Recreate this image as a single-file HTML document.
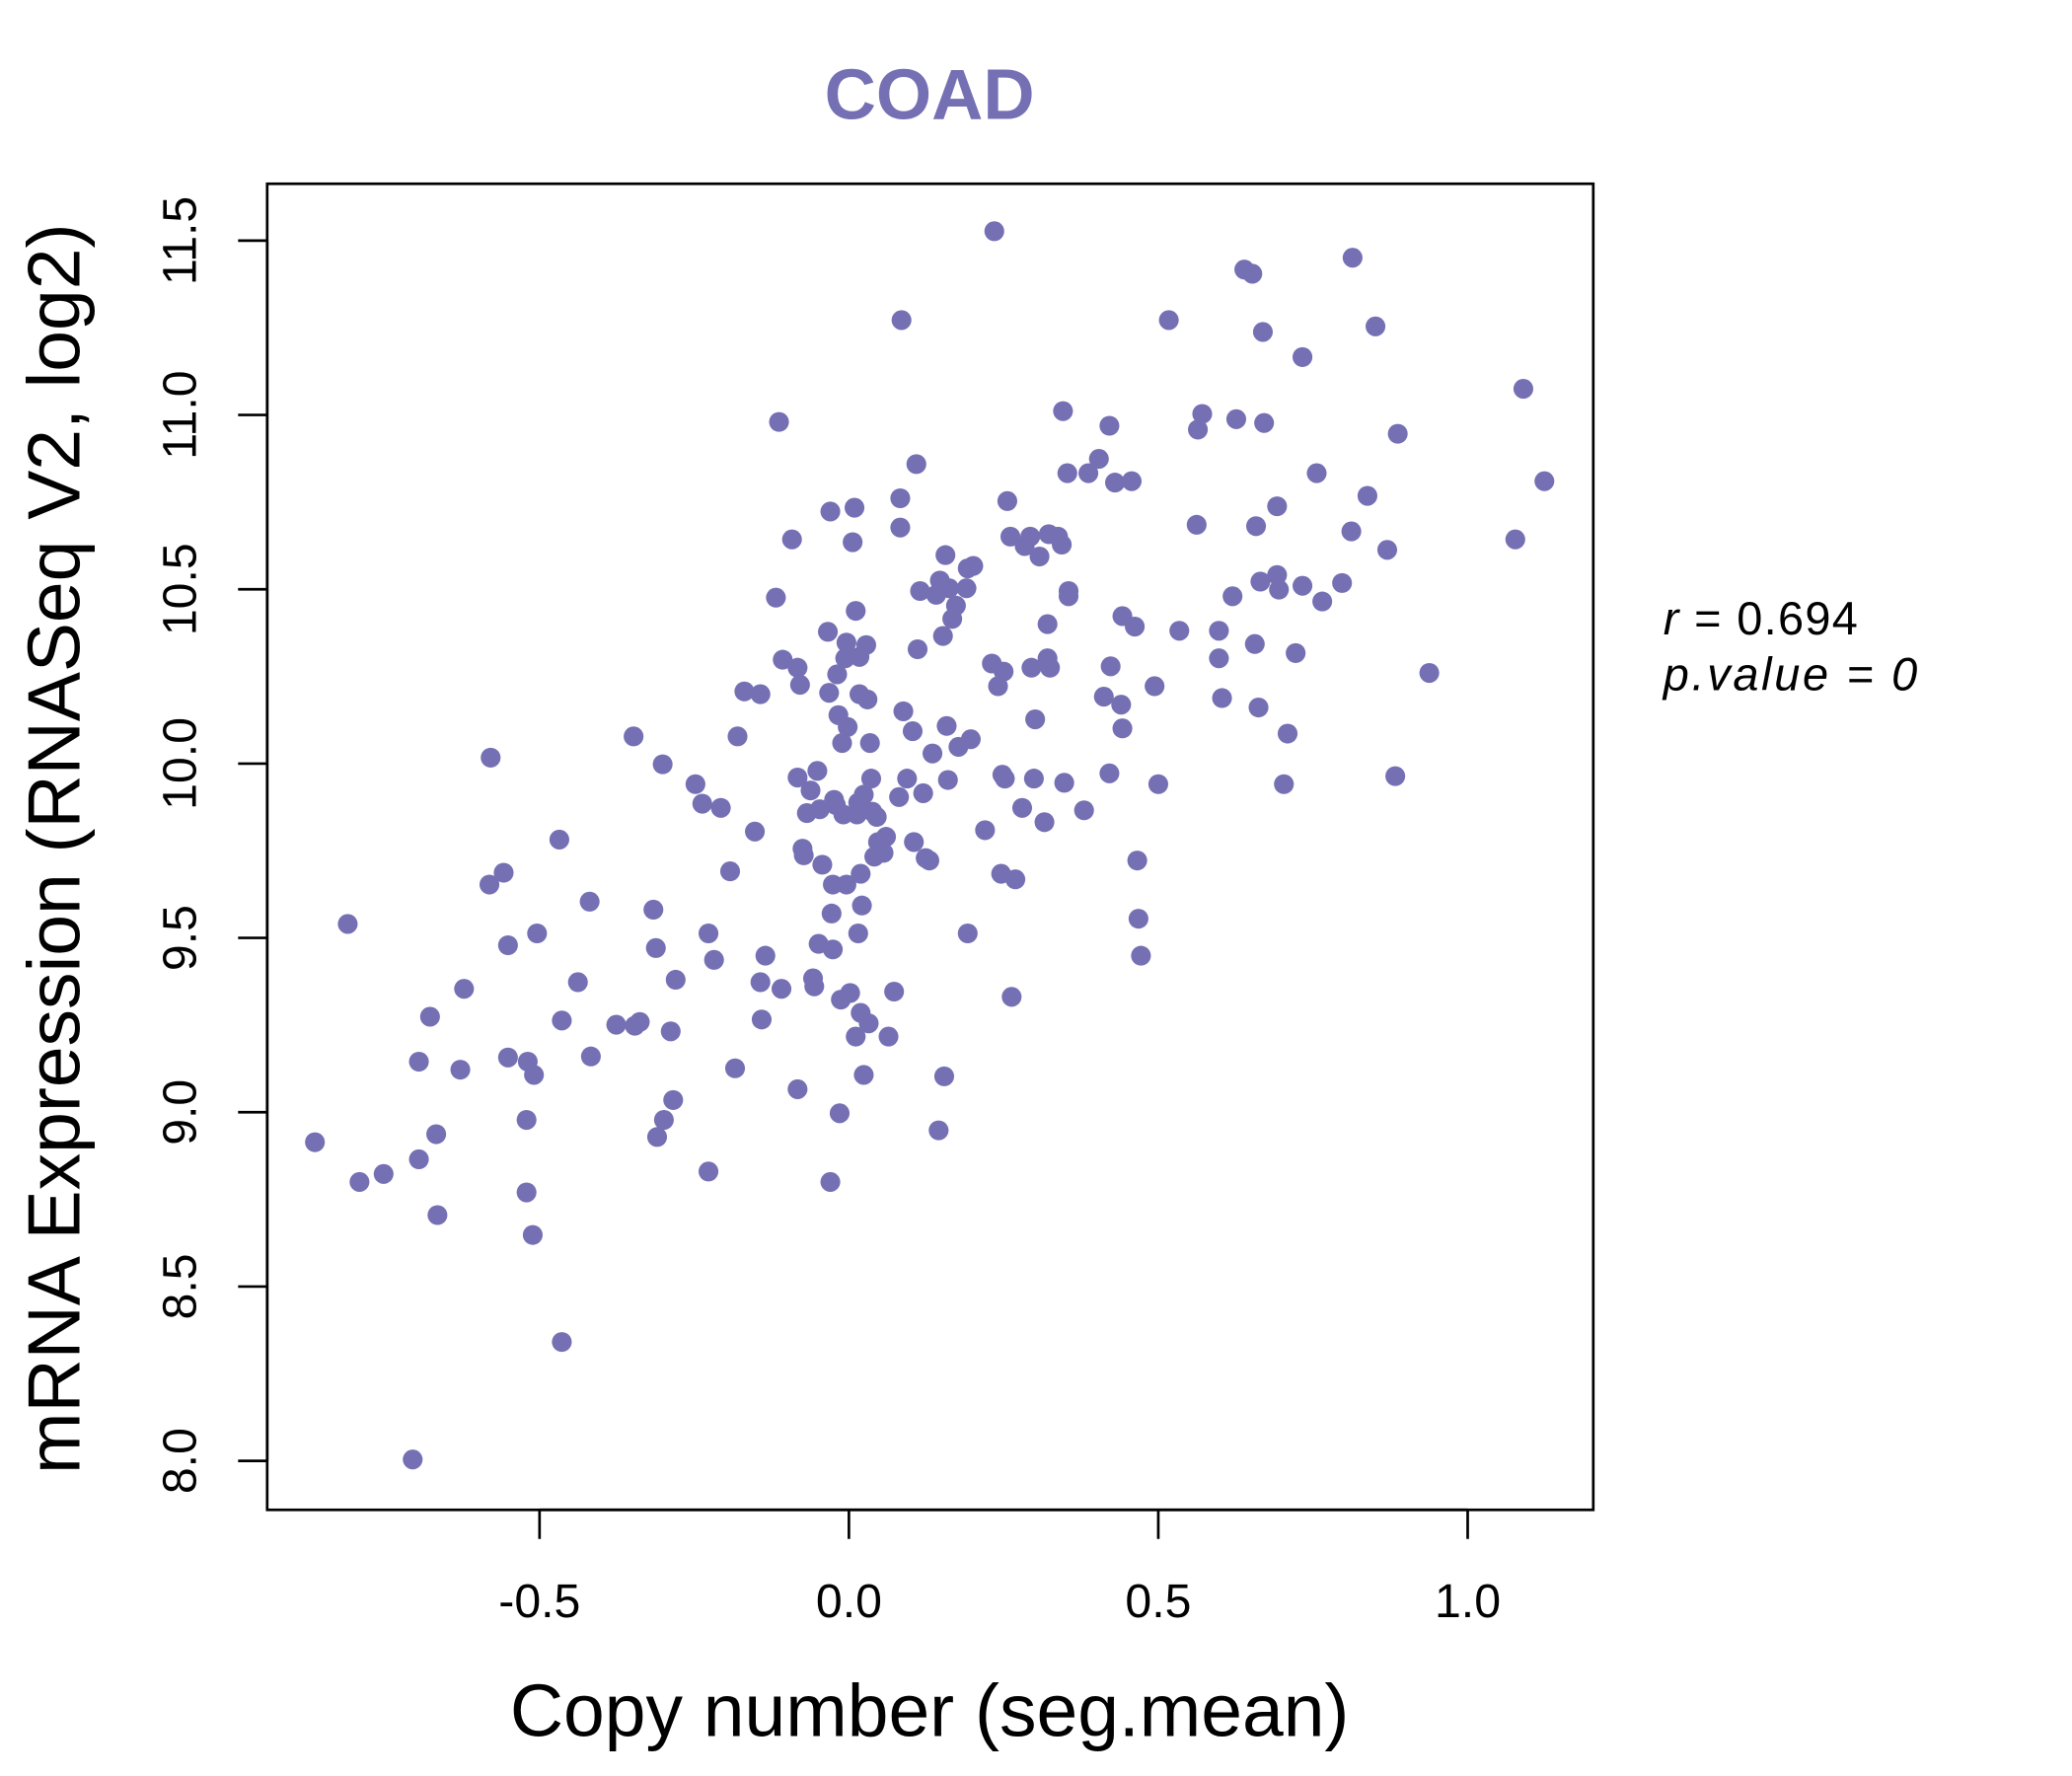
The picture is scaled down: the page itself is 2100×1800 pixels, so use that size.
<!DOCTYPE html>
<html><head><meta charset="utf-8"><style>
html,body{margin:0;padding:0;background:#fff;}
svg{display:block;}
text{font-family:"Liberation Sans",sans-serif;}
</style></head><body>
<svg id="chart" width="2100" height="1800" viewBox="0 0 1567 1343.3" xmlns="http://www.w3.org/2000/svg">
<rect x="0" y="0" width="1567" height="1343.3" fill="#fff"/>
<text x="703" y="90" text-anchor="middle" font-size="54" font-weight="bold" fill="#7570B3">COAD</text>
<rect x="202" y="139" width="1003" height="1003" fill="none" stroke="#000" stroke-width="2"/>
<g id="xaxis"></g>
<g id="yaxis"></g>
<g id="points"></g>
<text x="703" y="1313" text-anchor="middle" font-size="56">Copy number (seg.mean)</text>
<text transform="translate(60,642) rotate(-90)" text-anchor="middle" font-size="56">mRNA Expression (RNASeq V2, log2)</text>
<text x="1258" y="480" font-size="35" letter-spacing="1"><tspan font-style="italic">r</tspan> = 0.694</text>
<text x="1258" y="522" font-size="35" font-style="italic" letter-spacing="2">p.value = 0</text>
</svg>
<script>
const xTicks = [-0.5, 0.0, 0.5, 1.0];
const xTickLabels = ["-0.5", "0.0", "0.5", "1.0"];
const yTicks = [8.0, 8.5, 9.0, 9.5, 10.0, 10.5, 11.0, 11.5];
const yTickLabels = ["8.0", "8.5", "9.0", "9.5", "10.0", "10.5", "11.0", "11.5"];
const copyNumber = [-0.863,-0.810,-0.791,-0.752,-0.705,-0.695,-0.695,-0.677,-0.667,-0.665,-0.628,-0.622,-0.581,-0.579,-0.558,-0.551,-0.551,-0.521,-0.521,-0.519,-0.511,-0.509,-0.504,-0.468,-0.464,-0.464,-0.438,-0.419,-0.417,-0.376,-0.346,-0.338,-0.348,-0.316,-0.312,-0.310,-0.301,-0.299,-0.288,-0.284,-0.280,-0.248,-0.237,-0.227,-0.227,-0.218,-0.207,-0.192,-0.184,-0.180,-0.169,-0.152,-0.143,-0.143,-0.141,-0.135,-0.118,-0.113,-0.109,-0.107,-0.092,-0.083,-0.083,-0.083,-0.079,-0.075,-0.073,-0.068,-0.062,-0.058,-0.056,-0.051,-0.049,-0.047,-0.043,-0.034,-0.032,-0.030,-0.030,-0.028,-0.026,-0.026,-0.024,-0.021,-0.019,-0.017,-0.015,-0.013,-0.011,-0.009,-0.006,-0.004,-0.004,-0.002,0.002,0.006,0.009,0.011,0.011,0.013,0.015,0.015,0.017,0.017,0.019,0.019,0.021,0.024,0.024,0.028,0.030,0.032,0.034,0.036,0.038,0.041,0.045,0.047,0.056,0.060,0.064,0.073,0.081,0.083,0.083,0.085,0.088,0.094,0.103,0.105,0.109,0.111,0.115,0.120,0.124,0.130,0.135,0.141,0.145,0.147,0.152,0.154,0.156,0.158,0.160,0.162,0.167,0.173,0.177,0.190,0.192,0.197,0.201,0.192,0.220,0.231,0.235,0.241,0.246,0.248,0.250,0.252,0.256,0.261,0.263,0.269,0.280,0.284,0.293,0.295,0.299,0.301,0.308,0.316,0.321,0.321,0.323,0.325,0.338,0.344,0.346,0.348,0.353,0.355,0.355,0.380,0.387,0.404,0.412,0.421,0.421,0.423,0.430,0.440,0.442,0.442,0.457,0.462,0.466,0.468,0.472,0.494,0.500,0.517,0.534,0.562,0.564,0.571,0.598,0.598,0.603,0.620,0.626,0.639,0.652,0.656,0.658,0.662,0.665,0.669,0.671,0.692,0.692,0.695,0.703,0.709,0.722,0.733,0.733,0.756,0.765,0.797,0.812,0.814,0.838,0.851,0.870,0.883,0.887,0.938,1.077,1.090,1.124];
const expression = [8.914,9.540,8.800,8.823,8.004,9.145,8.865,9.274,8.937,8.705,9.122,9.354,9.653,10.017,9.687,9.479,9.157,8.770,8.978,9.145,8.648,9.107,9.513,9.782,9.263,8.341,9.373,9.604,9.160,9.251,9.248,9.259,10.078,9.581,9.471,8.929,9.998,8.978,9.232,9.035,9.380,9.941,9.885,9.513,8.830,9.437,9.873,9.691,9.126,10.078,10.207,9.805,10.199,9.373,9.266,9.449,10.476,10.980,9.354,10.298,10.643,10.275,9.960,9.066,10.226,9.756,9.737,9.858,9.923,9.384,9.361,9.979,9.483,9.869,9.710,10.378,10.203,10.723,8.800,9.570,9.653,9.467,9.896,9.881,10.256,10.139,8.997,9.323,10.059,9.854,10.302,10.347,9.653,10.105,9.342,10.635,10.734,10.438,9.217,9.854,9.513,9.888,10.306,10.199,9.684,9.285,9.593,9.107,9.911,10.340,10.184,9.255,10.059,9.957,9.862,9.733,9.847,9.775,9.744,9.790,9.217,9.346,9.904,10.761,10.677,11.272,10.150,9.957,10.093,9.775,10.859,10.328,10.495,9.915,9.729,9.722,10.029,10.484,8.948,10.525,10.366,9.103,10.598,10.108,9.953,10.503,10.415,10.453,10.048,10.503,10.560,10.070,10.567,9.513,9.809,10.287,11.527,10.222,9.684,9.968,10.264,9.957,10.753,10.651,9.331,9.668,9.873,10.624,10.651,10.275,9.957,10.127,10.594,9.832,10.400,10.302,10.658,10.275,10.651,10.628,11.011,9.945,10.833,10.495,10.480,9.866,10.833,10.874,10.192,10.969,9.972,10.279,10.806,10.169,10.101,10.423,10.810,10.393,9.722,9.555,9.449,10.222,9.941,11.272,10.381,10.685,10.958,11.003,10.381,10.302,10.188,10.480,10.988,11.417,11.405,10.343,10.681,10.161,10.522,11.238,10.977,10.738,10.541,10.499,9.941,10.086,10.317,11.166,10.510,10.833,10.465,10.518,10.666,11.451,10.768,11.254,10.613,9.964,10.946,10.260,10.643,11.075,10.810];

const NS = "http://www.w3.org/2000/svg";
function xScale(v){ return 642 + (v - 0.0) * 468; }
function yScale(v){ return 182 + (11.5 - v) * 263.7; }
function mk(tag, attrs){ const e = document.createElementNS(NS, tag); for (const k in attrs) e.setAttribute(k, attrs[k]); return e; }

const xg = document.getElementById('xaxis');
xg.appendChild(mk('line', {x1: xScale(xTicks[0]), x2: xScale(xTicks[xTicks.length-1]), y1: 1142, y2: 1142, stroke: '#000', 'stroke-width': 2}));
xTicks.forEach((t, i) => {
  const l = mk('line', {x1: xScale(t), x2: xScale(t), y1: 1142, y2: 1164, stroke: '#000', 'stroke-width': 2});
  
  
  xg.appendChild(l);
  const tx = mk('text', {x: xScale(t), y: 1223, 'text-anchor': 'middle', 'font-size': 36});
  
  
  tx.textContent = xTickLabels[i];
  xg.appendChild(tx);
});

const yg = document.getElementById('yaxis');
yg.appendChild(mk('line', {x1: 202, x2: 202, y1: yScale(yTicks[0]), y2: yScale(yTicks[yTicks.length-1]), stroke: '#000', 'stroke-width': 2}));
yTicks.forEach((t, i) => {
  const l = mk('line', {x1: 180, x2: 202, y1: yScale(t), y2: yScale(t), stroke: '#000', 'stroke-width': 2});
  
  
  yg.appendChild(l);
  const tx = mk('text', {transform: 'translate(148,' + yScale(t) + ') rotate(-90)', 'text-anchor': 'middle', 'font-size': 36});
  
  
  tx.textContent = yTickLabels[i];
  yg.appendChild(tx);
});

const pg = document.getElementById('points');
copyNumber.forEach((v, i) => {
  const c = mk('circle', {cx: xScale(v), cy: yScale(expression[i]), r: 7.5, fill: '#7570B3'});
  
  
  pg.appendChild(c);
});
</script>
</body></html>
